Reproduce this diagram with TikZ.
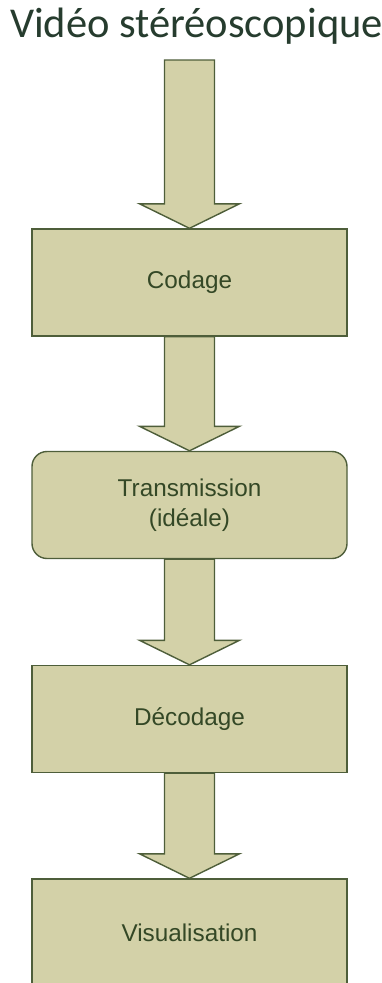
\documentclass[tikz,border=0pt]{standalone}
\usepackage{fontspec}
\setmainfont{Liberation Sans}
\newfontfamily\titlefont{Carlito}
\usetikzlibrary{calc}

\definecolor{boxfill}{RGB}{211,209,168}
\definecolor{boxline}{RGB}{78,94,58}
\definecolor{boxtext}{RGB}{52,72,38}
\definecolor{titletext}{RGB}{38,60,46}

% block arrow between two anchors: #1 = start, #2 = tip
\newcommand{\blockarrow}[2]{%
    \draw[flowarrow] let \p1=(#1), \p2=(#2) in
        (\x1-25pt,\y1) -- (\x1+25pt,\y1) -- (\x1+25pt,\y2+24.5pt)
        -- (\x1+50pt,\y2+24.5pt) -- (\x1,\y2) -- (\x1-50pt,\y2+24.5pt)
        -- (\x1-25pt,\y2+24.5pt) -- cycle;}

\begin{document}
\begin{tikzpicture}[x=1pt, y=-1pt,
    stage/.style={draw=boxline, fill=boxfill, line width=1.4pt,
        minimum width=315pt, minimum height=107pt, inner sep=0pt,
        text=boxtext, align=center, font=\fontsize{24.3}{30}\selectfont},
    roundstage/.style={stage, rounded corners=15pt},
    flowarrow/.style={draw=boxline, fill=boxfill, line width=1.4pt, line join=miter}]
    \useasboundingbox (0,0) rectangle (382,983);

    % Title
    \node[anchor=base, text=titletext, font=\titlefont\fontsize{42.5}{48}\selectfont,
        inner sep=0pt] (title) at (196.5,37) {Vidéo stéréoscopique};
    \coordinate (in) at (189.5,60);

    % Stages
    \node[stage] (codage) at (189.5,282.5) {Codage};
    \node[roundstage] (transmission) at (189.5,505) {Transmission\\(idéale)};
    \node[stage] (decodage) at (189.5,719) {Décodage};
    \node[stage] (visu) at (189.5,932.5) {Visualisation};

    % Arrows
    \blockarrow{in}{codage.north}
    \blockarrow{codage.south}{transmission.north}
    \blockarrow{transmission.south}{decodage.north}
    \blockarrow{decodage.south}{visu.north}
\end{tikzpicture}
\end{document}
